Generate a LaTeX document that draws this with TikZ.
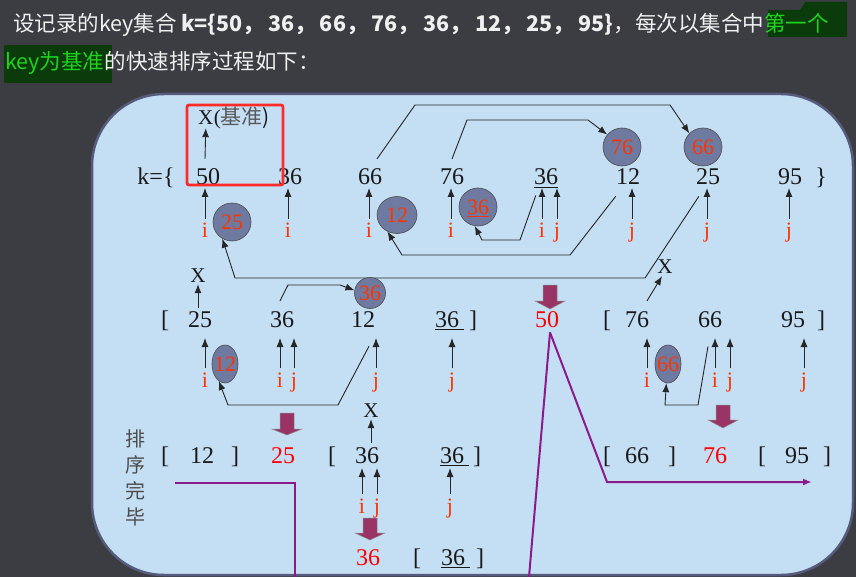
\documentclass[tikz,border=0pt]{standalone}
\usepackage{fontspec}
\setmainfont{Liberation Serif}
\newfontfamily\cjk{Noto Sans CJK SC}
\usetikzlibrary{arrows.meta,calc,shapes.geometric}
\definecolor{bgdark}{HTML}{3C3D42}
\definecolor{panel}{HTML}{C4DEF4}
\definecolor{panelborder}{HTML}{555B7B}
\definecolor{hlgreen}{HTML}{0B3B0B}
\definecolor{txtgreen}{HTML}{1ED21E}
\definecolor{circfill}{HTML}{6E7AA0}
\definecolor{ijred}{HTML}{FF3300}
\definecolor{boxred}{HTML}{FF2A2A}
\definecolor{blockarrow}{HTML}{993366}
\definecolor{purpleline}{HTML}{8B1A8B}
\newcommand\barrow[4]{\filldraw[fill=blockarrow, draw=black!45, line width=0.5pt] ({#1-7},#2) -- ({#1+7},#2) -- ({#1+7},#3) -- ({#1+15},#3) -- (#1,#4) -- ({#1-15},#3) -- ({#1-7},#3) -- cycle;}
\newcommand\uline[2]{\draw[line width=1.2pt, black!90] ($(#1.base west)+(0,2.5)$) -- ($(#1.base east)+(#2,2.5)$);}
\begin{document}
\begin{tikzpicture}[x=1pt,y=-1pt,
 num/.style={font=\fontsize{24}{28}\selectfont, text=black!90, inner sep=0pt, anchor=base},
 lab/.style={font=\fontsize{22}{26}\selectfont, text=ijred, inner sep=0pt, anchor=base},
 xlab/.style={font=\fontsize{21}{25}\selectfont, text=black!90, inner sep=0pt, anchor=base},
 circ/.style={circle, draw=black!70, line width=0.6pt, fill=circfill, inner sep=0pt, text=ijred, font=\fontsize{22}{26}\selectfont},
 oval/.style={ellipse, draw=black!70, line width=0.6pt, fill=circfill, inner xsep=-2pt, inner ysep=0pt, text=ijred, font=\fontsize{22}{26}\selectfont},
 arr/.style={-{Latex[length=9pt,width=7pt]}, line width=0.9pt, draw=black!85},
 plin/.style={line width=2pt, draw=purpleline},
 hdr/.style={font=\cjk\fontsize{21.5}{26}\selectfont, text=white!94!black, inner sep=0pt, anchor=base west},
 hdrg/.style={hdr, text=txtgreen},
 vert/.style={font=\cjk\fontsize{20}{26}\selectfont, text=black!70, inner sep=0pt, align=center}]
\useasboundingbox (0,0) rectangle (856,577);
\fill[bgdark] (0,0) rectangle (856,577);
% header
\fill[hlgreen] (768,10) -- (800,10) -- (805,2) -- (847,2) -- (847,37) -- (768,37) -- cycle;
\fill[hlgreen] (4,45) rectangle (112,83);
\node[hdr] (h1) at (13,32) {设记录的key集合};
\node[hdr, font=\cjk\bfseries\fontsize{21.5}{26}\selectfont] (h2) at ($(h1.base east)+(4,0)$) {k=\{50，\kern4pt36，\kern4pt66，\kern4pt76，\kern4pt36，\kern4pt12，\kern4pt25，\kern4pt95\}};
\node[hdr] (h3) at (h2.base east) {，每次以集合中};
\node[hdrg] (h4) at (h3.base east) {第一个};
\node[hdrg] (h5) at (5,70) {key为基准};
\node[hdr] (h6) at (h5.base east) {的快速排序过程如下：};
% panel
\draw[panelborder, line width=2.5pt, fill=panel, rounded corners=72pt] (92,94) rectangle (853,575);
% row 1
\node[num] (kb) at (156,185) {k=\{};
\node[num] (a1) at (208,185) {50};
\node[num] (a2) at (290,185) {36};
\node[num] (a3) at (370,185) {66};
\node[num] (a4) at (452,185) {76};
\node[num] (a5) at (546,185) {36};
\node[num] (a6) at (628,185) {12};
\node[num] (a7) at (708,185) {25};
\node[num] (a8) at (790,185) {95};
\node[num] (ke) at (821,185) {\}};
\uline{a5}{0}
\node[xlab, anchor=base west] (xb) at (198,125) {X};
\node[xlab, anchor=base west] (xbl) at (xb.base east) {(\cjk\color{black!65}基准\color{black!90})};
\draw[arr] ($(a1.north)+(-3,-10)$) -- ($(xb.south)+(0,3)$);
\draw[boxred, line width=2.8pt, rounded corners=2pt] (187,105) rectangle (283,185);
\coordinate (t1) at (0,188);
\node[lab] (l1) at (205,238) {i};
\node[lab] (l2) at (288,238) {i};
\node[lab] (l3) at (369,238) {i};
\node[lab] (l4) at (451,238) {i};
\node[lab] (l5) at (542,238) {i};
\node[lab] (l6) at (557,238) {j};
\node[lab] (l7) at (632,238) {j};
\node[lab] (l8) at (707,238) {j};
\node[lab] (l9) at (789,238) {j};
\foreach \n in {l1,l2,l3,l4,l5,l6,l7,l8,l9} \draw[arr] ($(\n.north)+(0,-4)$) -- (\n.north |- t1);
\node[circ, minimum size=38pt] (c25) at (232,222) {25};
\node[ellipse, draw=black!70, line width=0.6pt, fill=circfill, inner sep=0pt, text=ijred, font=\fontsize{22}{26}\selectfont, minimum width=40pt, minimum height=37pt] (c12) at (397,215) {12};
\node[circ, minimum size=38pt] (c36) at (478,207) {36};
\draw[ijred, line width=1.1pt] ($(c36.center)+(-11,9.5)$) -- ($(c36.center)+(11,9.5)$);
\node[circ, minimum size=38pt] (c76) at (622,147) {76};
\node[circ, minimum size=38pt] (c66) at (703,147) {66};
\draw[arr] ($(a3.north)+(7,-10)$) -- (415,105) -- (670,105) -- (c66.135);
\draw[arr] ($(a4.north)+(0,-10)$) -- (467,120) -- (588,120) -- (c76.140);
\draw[arr] ($(a5.south west)+(2,10)$) -- (520,240) -- (482,240) -- (c36.260);
\draw[arr] ($(a6.south west)+(0,11)$) -- (570,255) -- (402,255) -- (c12.240);
\draw[arr] ($(a7.south west)+(3,11)$) -- (645,278) -- (235,278) -- (c25.240);
% row 2
\node[num] (lb2) at (165,327) {[};
\node[num] (b1) at (200,327) {25};
\node[num] (b2) at (282,327) {36};
\node[num] (b3) at (363,327) {12};
\node[num] (b4) at (447,327) {36};
\node[num] (rb2) at (473,327) {]};
\uline{b4}{5}
\node[num, text=red] (p50) at (547,327) {50};
\node[num] (lb2r) at (607,327) {[};
\node[num] (b5) at (637,327) {76};
\node[num] (b6) at (710,327) {66};
\node[num] (b7) at (793,327) {95};
\node[num] (rb2r) at (821,327) {]};
\node[xlab] (xa) at (198,282) {X};
\draw[arr] ($(xa.south)+(0,26)$) -- ($(xa.south)+(0,2)$);
\node[xlab] (xr) at (665,273) {X};
\draw[arr] ($(b5.north)+(10,-10)$) -- ($(xr.south)+(-3,3)$);
\node[circ, minimum size=31pt] (cs36) at (370,293) {36};
\draw[arr] ($(b2.north)+(-2,-10)$) -- (288,285) -- (340,285) -- (cs36.170);
\barrow{550}{285}{301}{309}
\coordinate (t2) at (0,338);
\node[lab] (m1) at (205,387) {i};
\node[lab] (m2) at (280,387) {i};
\node[lab] (m3) at (294,387) {j};
\node[lab] (m4) at (376,387) {j};
\node[lab] (m5) at (452,387) {j};
\node[lab] (m6) at (647,387) {i};
\node[lab] (m7) at (715,387) {i};
\node[lab] (m8) at (730,387) {j};
\node[lab] (m9) at (804,387) {j};
\foreach \n in {m1,m2,m3,m4,m5,m6,m7,m8,m9} \draw[arr] ($(\n.north)+(0,-4)$) -- (\n.north |- t2);
\node[oval, minimum width=26pt, minimum height=38pt] (e12) at (225,364) {12};
\node[oval, minimum width=26pt, minimum height=38pt] (e66) at (668,364) {66};
\draw[arr] ($(b3.south)+(6,19)$) -- (338,405) -- (228,405) -- (e12.250);
\draw[arr] ($(b6.south)+(-2,19)$) -- (698,405) -- (665,405) -- (e66.265);
\barrow{723}{405}{420}{428}
\barrow{287}{413}{429}{435}
% row 3
\node[vert] (done) at (135,478) {排\\序\\完\\毕};
\node[num] (lb3) at (165,463) {[};
\node[num] (d1) at (202,463) {12};
\node[num] (rb3) at (235,463) {]};
\node[num, text=red] (p25) at (283,463) {25};
\node[num] (lb3b) at (332,463) {[};
\node[num] (d2) at (367,463) {36};
\node[num] (d3) at (452,463) {36};
\node[num] (rb3b) at (477,463) {]};
\uline{d3}{5}
\node[num] (lb3r) at (607,463) {[};
\node[num] (d4) at (637,463) {66};
\node[num] (rb3r) at (672,463) {]};
\node[num, text=red] (p76) at (715,463) {76};
\node[num] (lb3s) at (762,463) {[};
\node[num] (d5) at (797,463) {95};
\node[num] (rb3s) at (827,463) {]};
\node[xlab] (xq) at (371,417) {X};
\draw[arr] ($(xq.south)+(0,26)$) -- ($(xq.south)+(0,2)$);
\coordinate (t3) at (0,468);
\node[lab] (n1) at (362,513) {i};
\node[lab] (n2) at (377,513) {j};
\node[lab] (n3) at (450,513) {j};
\foreach \n in {n1,n2,n3} \draw[arr] ($(\n.north)+(0,-4)$) -- (\n.north |- t3);
\barrow{370}{518}{533}{540}
% row 4
\node[num, text=red] (p36) at (368,565) {36};
\node[num] (lb4) at (417,565) {[};
\node[num] (e1) at (453,565) {36};
\node[num] (rb4) at (480,565) {]};
\uline{e1}{5}
% purple lines
\coordinate (pl1) at (529,577);
\coordinate (pl2) at (607,482);
\coordinate (pl3) at (812,482);
\coordinate (pl4) at (175,483);
\coordinate (pl5) at (295,483);
\coordinate (pl6) at (295,577);
\draw[plin] ($(p50.south)+(3,5)$) -- (pl1);
\draw[plin, -{Latex[length=9pt,width=7pt]}] ($(p50.south)+(3,5)$) -- (pl2) -- (pl3);
\draw[plin] (pl4) -- (pl5) -- (pl6);
\end{tikzpicture}
\end{document}
